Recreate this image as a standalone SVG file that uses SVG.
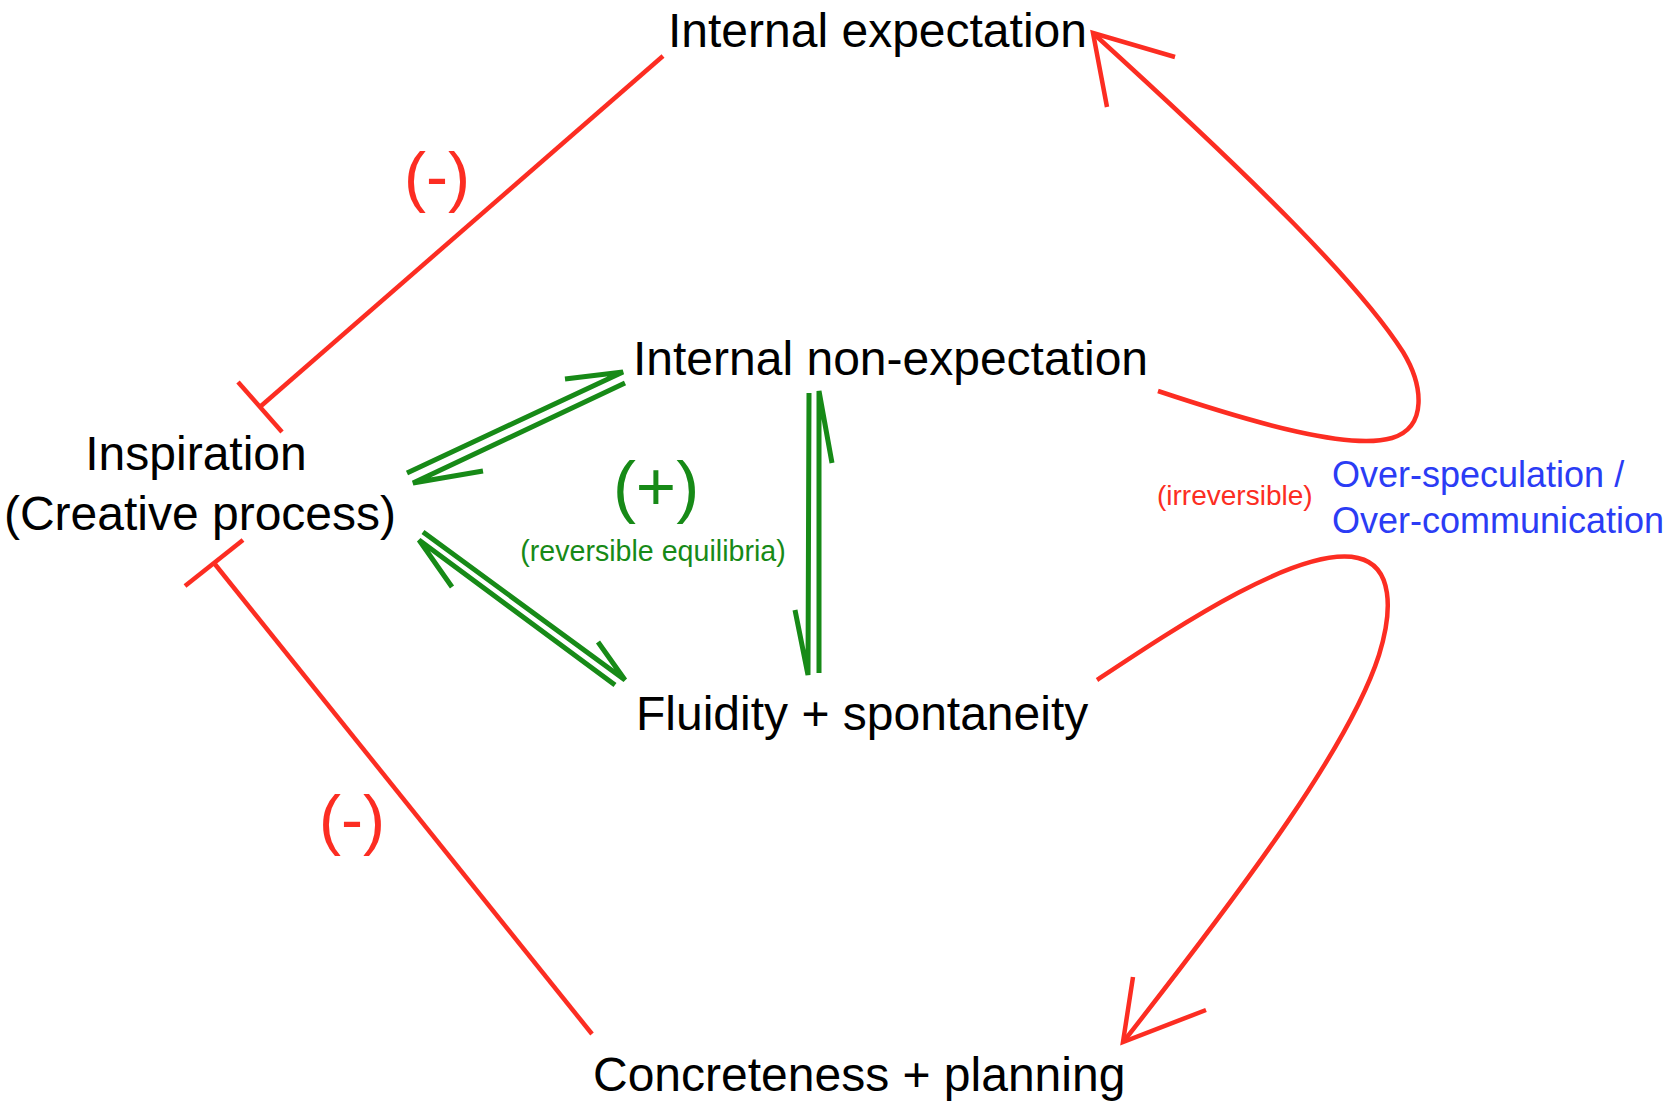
<svg xmlns="http://www.w3.org/2000/svg" width="1678" height="1118" viewBox="0 0 1678 1118">
<style>
.t{font-family:"Liberation Sans",Arial,Helvetica,sans-serif;font-size:48px;fill:#000}
.r{fill:none;stroke:#fc2d22;stroke-width:4.5;stroke-linecap:butt;stroke-linejoin:miter}
.g{fill:none;stroke:#178a17;stroke-width:5;stroke-linecap:butt;stroke-linejoin:miter}
.sg{font-family:"Liberation Sans",Arial,sans-serif;fill:#178a17}
.sr{font-family:"Liberation Sans",Arial,sans-serif;fill:#fc2d22}
.sb{font-family:"Liberation Sans",Arial,sans-serif;fill:#2b3cf5;font-size:36px}
</style>
<rect width="1678" height="1118" fill="#fff"/>
<g id="connectors">
  <path class="r" d="M663,56 L261,406"/>
  <path class="r" d="M238,382 L282,432"/>
  <path class="r" d="M592,1034 L214,563"/>
  <path class="r" d="M185,586 L243,540"/>
  <path class="g" d="M407,473 L623,372 L565,379"/>
  <path class="g" d="M625,383 L413,483 L483,471"/>
  <path class="g" d="M423,532 L625,680 L598,642"/>
  <path class="g" d="M615,685 L419,540 L452,587"/>
  <path class="g" d="M809,393 L808,675 L795,610"/>
  <path class="g" d="M819,673 L819,391 L832,463"/>
  <path class="r" d="M1158,391 C1260,425 1350,450 1392,438 C1428,427 1423,385 1403,352 C1360,285 1260,185 1094,34"/>
  <path class="r" d="M1175,57 L1093,33 L1107,107"/>
  <path class="r" d="M1097,680 C1180,625 1300,545 1358,558 C1393,566 1393,610 1379,655 C1350,745 1250,880 1124,1041"/>
  <path class="r" d="M1133,977 L1123,1042 L1206,1010"/>
</g>
<g id="labels">
  <text class="sr" x="437" y="199" font-size="66" text-anchor="middle">(-)</text>
  <text class="sr" x="352" y="842" font-size="66" text-anchor="middle">(-)</text>
  <text class="sg" x="656" y="510" font-size="69" text-anchor="middle">(+)</text>
  <text class="sg" x="653" y="561" font-size="28.6" text-anchor="middle">(reversible equilibria)</text>
  <text class="sr" x="1157" y="505" font-size="28">(irreversible)</text>
  <text class="sb" x="1332" y="487">Over-speculation /</text>
  <text class="sb" x="1332" y="533">Over-communication</text>
</g>
<g id="node-internal-expectation"><text class="t" x="668" y="47">Internal expectation</text></g>
<g id="node-inspiration">
  <text class="t" x="196" y="470" text-anchor="middle">Inspiration</text>
  <text class="t" x="200" y="530" text-anchor="middle">(Creative process)</text>
</g>
<g id="node-internal-non-expectation"><text class="t" x="633" y="375">Internal non-expectation</text></g>
<g id="node-fluidity"><text class="t" x="636" y="730">Fluidity + spontaneity</text></g>
<g id="node-concreteness"><text class="t" x="593" y="1091">Concreteness + planning</text></g>
</svg>
